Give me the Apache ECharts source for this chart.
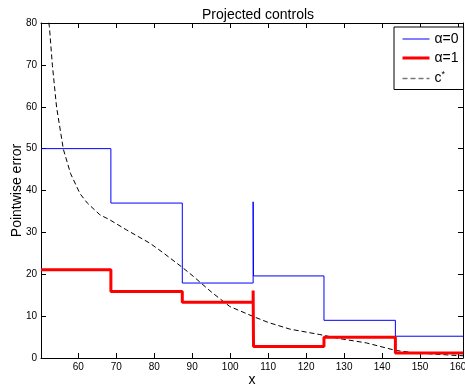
<!DOCTYPE html>
<html>
<head>
<meta charset="utf-8">
<script src="https://cdn.jsdelivr.net/npm/echarts@6/dist/echarts.min.js"></script>
<style>
html,body{margin:0;padding:0;background:#fff;}
#c{width:465px;height:390px;}
</style>
</head>
<body>
<div id="c"></div>
<script>
// ---- data ----
var xTicks = [60, 70, 80, 90, 100, 110, 120, 130, 140, 150, 160];
var yTicks = [0, 10, 20, 30, 40, 50, 60, 70, 80];
// alpha = 0 : step start points [x, level]
var alpha0X = [50.2, 68.6, 87.4, 106.05, 106.15, 124.7, 143.5, 161.3];
var alpha0Y = [50.0, 37.0, 17.9, 37.3, 19.6, 9.0, 5.2, 5.2];
// alpha = 1
var alpha1X = [50.2, 68.6, 87.4, 106.05, 106.15, 124.7, 143.5, 161.3];
var alpha1Y = [21.1, 15.9, 13.3, 16.1, 2.75, 4.95, 1.2, 1.2];
// c*
var cstarX = [51.9, 52.4, 53.2, 54.3, 56.1, 58.0, 60.5, 62.4, 65.7, 68.3, 72.7, 78.9, 82.4, 87.6, 90.3, 95.0, 99.9, 106.1, 110.0, 115.7, 123.6, 129.0, 135.9, 143.6, 148.0, 153.4, 159.6, 161.3];
var cstarY = [82.0, 79.2, 69.9, 59.9, 49.8, 44.0, 39.2, 37.0, 34.2, 33.0, 30.6, 27.4, 25.1, 21.5, 19.5, 15.8, 12.3, 9.9, 8.5, 6.9, 5.6, 4.6, 3.6, 1.8, 1.3, 0.95, 0.6, 0.55];
var xMin = 50.2, xMax = 161.3, yMin = 0, yMax = 80;

function pairs(xs, ys) { return xs.map(function (x, i) { return [x, ys[i]]; }); }

var FONT = '"Liberation Sans", Arial, sans-serif';
var chart = echarts.init(document.getElementById('c'), null, {renderer: 'canvas'});

var baseX = {
  type: 'value', min: xMin, max: xMax,
  axisLine: {show: true, onZero: false, lineStyle: {color: '#000', width: 1}},
  axisTick: {show: true, inside: true, length: 5, customValues: xTicks, lineStyle: {color: '#000'}},
  splitLine: {show: false}
};
var baseY = {
  type: 'value', min: yMin, max: yMax, interval: 10,
  axisLine: {show: true, onZero: false, lineStyle: {color: '#000', width: 1}},
  axisTick: {show: true, inside: true, length: 5, lineStyle: {color: '#000'}},
  splitLine: {show: false}
};
var hideSym = {opacity: 0};

chart.setOption({
  backgroundColor: '#fff',
  animation: false,
  title: {
    text: 'Projected controls', left: 197, top: 3,
    textStyle: {fontSize: 14, fontWeight: 'normal', fontFamily: FONT, color: '#000'}
  },
  grid: {left: 41, top: 23, right: 2, bottom: 32, containLabel: false, outerBoundsMode: 'none'},
  legend: {
    orient: 'vertical', left: 394, top: 27,
    backgroundColor: '#fff', borderColor: '#000', borderWidth: 1,
    padding: [5, 5, 4, 7], itemWidth: 27, itemHeight: 12, itemGap: 5,
    textStyle: {fontSize: 14, fontFamily: FONT, color: '#000',
      rich: {n: {fontSize: 14, fontFamily: FONT, color: '#000'},
             sup: {fontSize: 9, fontFamily: FONT, color: '#000', verticalAlign: 'top', padding: [0, 0, 8, 0]}}},
    formatter: function (name) { return name === 'c*' ? '{n|c}{sup|*}' : name; },
    data: [
      {name: 'α=0', itemStyle: hideSym, lineStyle: {color: '#0000ff', width: 1}},
      {name: 'α=1', itemStyle: hideSym, lineStyle: {color: '#ff0000', width: 3}},
      {name: 'c*', itemStyle: hideSym, lineStyle: {color: '#777', type: [5, 3], width: 1.5}}
    ]
  },
  xAxis: [
    Object.assign({}, baseX, {
      position: 'bottom', name: 'x', nameLocation: 'middle', nameGap: 15, nameMoveOverlap: false,
      nameTextStyle: {fontSize: 14, fontFamily: FONT, color: '#000'},
      axisLabel: {show: true, customValues: xTicks, fontSize: 10, fontFamily: FONT, color: '#000', margin: 4}
    }),
    Object.assign({}, baseX, {position: 'top', axisLabel: {show: false}})
  ],
  yAxis: [
    Object.assign({}, baseY, {
      position: 'left', name: 'Pointwise error', nameLocation: 'middle', nameGap: 17, nameMoveOverlap: false,
      nameTextStyle: {fontSize: 14, fontFamily: FONT, color: '#000'},
      axisLabel: {show: true, fontSize: 10, fontFamily: FONT, color: '#000', margin: 4}
    }),
    Object.assign({}, baseY, {position: 'right', axisLabel: {show: false}})
  ],
  series: [
    {name: 'α=0', type: 'line', step: 'end', symbol: 'none', data: pairs(alpha0X, alpha0Y),
     lineStyle: {color: '#0000ff', width: 1}, itemStyle: {color: '#0000ff'}, z: 3},
    {name: 'α=1', type: 'line', step: 'end', symbol: 'none', data: pairs(alpha1X, alpha1Y),
     lineStyle: {color: '#ff0000', width: 3}, itemStyle: {color: '#ff0000'}, z: 4},
    {name: 'c*', type: 'line', symbol: 'none', data: pairs(cstarX, cstarY), clip: true,
     lineStyle: {color: '#000', width: 1, type: [5, 3]}, itemStyle: {color: '#777'}, z: 2}
  ]
});
</script>
</body>
</html>
